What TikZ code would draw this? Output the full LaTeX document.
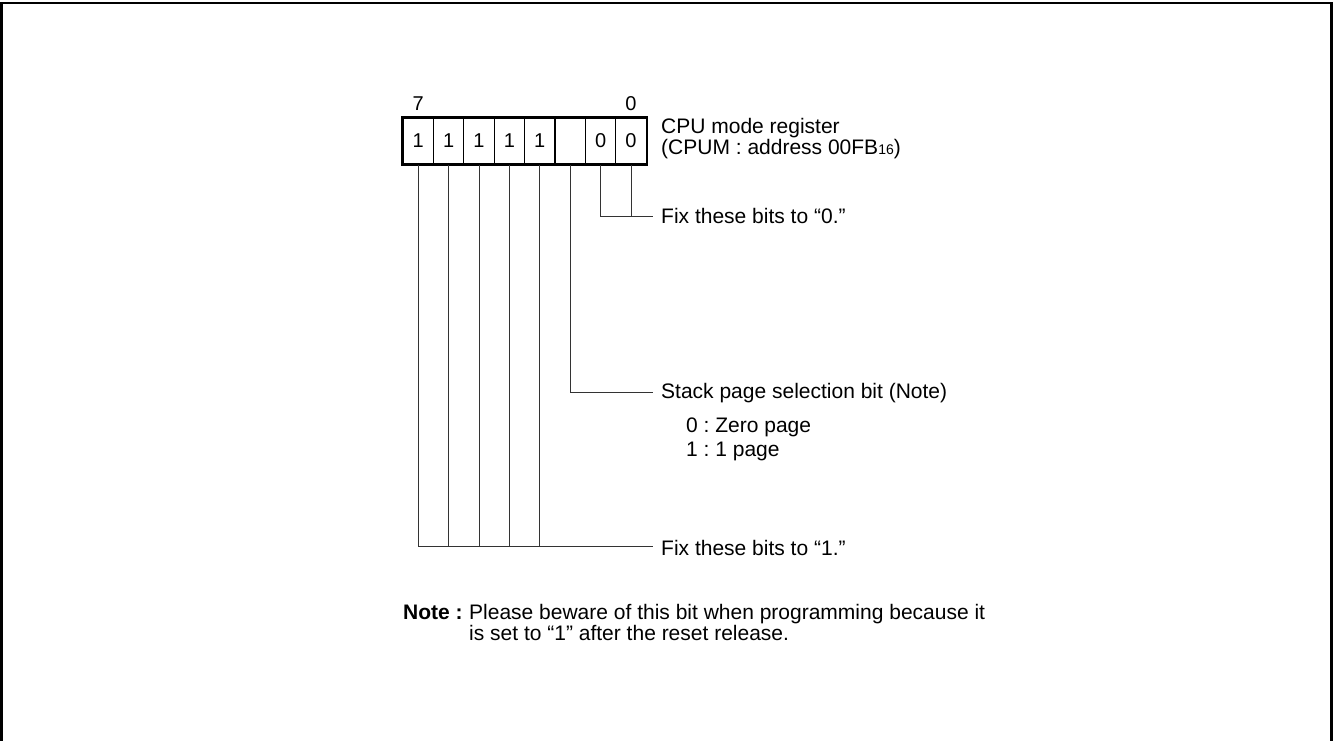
\documentclass[tikz,border=0pt]{standalone}
\usepackage{fontspec}
\setmainfont{Liberation Sans}
\frenchspacing
\begin{document}
\begin{tikzpicture}[x=1pt,y=-1pt,
  cell/.style={draw, line width=1.1pt, minimum width=30.4pt, minimum height=46pt, inner sep=0pt, font=\fontsize{20}{22}\selectfont},
  lbl/.style={anchor=west, inner sep=0pt, font=\fontsize{21}{21}\selectfont, align=left},
  conn/.style={line width=0.9pt, draw=black!80}]
\useasboundingbox (0,0) rectangle (1333,740);
\draw[line width=2.5pt] (1.25,745) -- (1.25,3) -- (1331.5,3) -- (1331.5,745);
% register cells
\node[cell] (b7) at (418.2,141) {1};
\node[cell] (b6) at (448.6,141) {1};
\node[cell] (b5) at (479.0,141) {1};
\node[cell] (b4) at (509.4,141) {1};
\node[cell] (b3) at (539.8,141) {1};
\node[cell] (b2) at (570.2,141) {};
\node[cell] (b1) at (600.6,141) {0};
\node[cell] (b0) at (631.0,141) {0};
\draw[line width=2pt] (b7.north west) rectangle (b0.south east);
\node[lbl, anchor=center, font=\fontsize{20}{20}\selectfont] (n7) at (418.2,104) {7};
\node[lbl, anchor=center, font=\fontsize{20}{20}\selectfont] (n0) at (631.0,104) {0};
\node[lbl] (reg) at (661,138.5) {CPU mode register\\(CPUM : address 00FB{\fontsize{14}{14}\selectfont 16})};
% labels
\node[lbl] (fix0) at (661,216) {Fix these bits to “0.”};
\node[lbl] (stack) at (661,393) {Stack page selection bit (Note)};
\node[lbl] (z0) at (686,427) {0 : Zero page};
\node[lbl] (z1) at (686,451) {1 : 1 page};
\node[lbl] (fix1) at (661,548) {Fix these bits to “1.”};
\node[lbl, font=\fontsize{21}{21}\selectfont\bfseries] (note) at (403,612) {Note :};
\node[lbl] (notetext) at (469,622.5) {Please beware of this bit when programming because it\\is set to “1” after the reset release.};
% connector ends
\coordinate (e0) at (653,216);
\coordinate (e2) at (653,392);
\coordinate (e1) at (653,546);
\draw[conn] (b1.south) |- (e0);
\draw[conn] (b0.south) -- (b0.south |- e0);
\draw[conn] (b2.south) |- (e2);
\draw[conn] (b7.south) |- (e1);
\foreach \b in {b6,b5,b4,b3}{\draw[conn] (\b.south) -- (\b.south |- e1);}
\end{tikzpicture}
\end{document}
